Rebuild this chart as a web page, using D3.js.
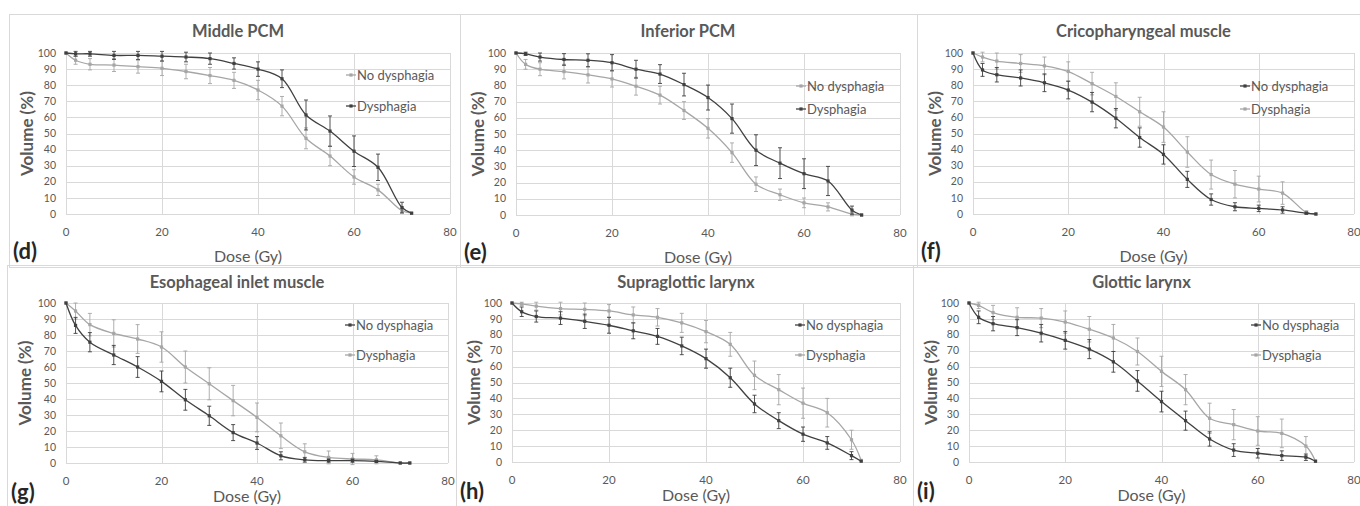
<!DOCTYPE html>
<html>
<head>
<meta charset="utf-8">
<script src="https://cdn.jsdelivr.net/npm/d3@7"></script>
<style>
body{margin:0;background:#fff;}
svg{display:block;font-family:Lato, "Liberation Sans", sans-serif;}
</style>
</head>
<body>
<div id="chart"></div>
<script>
// dose levels (Gy) shared by every panel
const doses = [0, 2, 5, 10, 15, 20, 25, 30, 35, 40, 45, 50, 55, 60, 65, 70, 72];

const panelTitles = ["Middle PCM", "Inferior PCM", "Cricopharyngeal muscle",
                     "Esophageal inlet muscle", "Supraglottic larynx", "Glottic larynx"];
const panelLetters = ["(d)", "(e)", "(f)", "(g)", "(h)", "(i)"];
const xTicks = [0, 20, 40, 60, 80];
const yTicks = [0, 10, 20, 30, 40, 50, 60, 70, 80, 90, 100];

// middle PCM
const middleNo     = [100, 95.5, 93, 92.5, 91.5, 90.5, 88.5, 86, 83, 77, 67, 47, 36, 23, 15, 2, 0.5];
const middleNoErr  = [0, 2.5, 3.5, 4, 4, 4.5, 4.5, 5, 5, 6, 6, 6.5, 6, 4.5, 3.5, 1.5, 0];
const middleDys    = [100, 99.5, 99.5, 98.5, 98.5, 98, 97.5, 96.5, 93.5, 90, 84, 61.5, 51.5, 39, 29, 4, 0.5];
const middleDysErr = [0, 1.5, 1.5, 2.5, 2.5, 3, 3, 3.5, 3.5, 4.5, 5.5, 9.3, 9.4, 9.5, 8.2, 3.3, 0];

// inferior PCM
const inferiorNo     = [100, 93, 90, 88.5, 86.5, 84, 79.5, 74, 64.5, 53.5, 38.5, 19, 12.5, 7.5, 5, 0.5, 0];
const inferiorNoErr  = [0, 3, 4, 4.5, 5, 5, 5.5, 5.5, 5.5, 6, 6, 4.5, 3.5, 3, 2.5, 1, 0];
const inferiorDys    = [100, 99.5, 97.5, 96, 95.5, 94, 90, 87, 80.5, 72.5, 59.5, 40, 32, 25.5, 21, 3, 0];
const inferiorDysErr = [0, 1, 2.5, 3.6, 4, 5, 5.5, 5.8, 7, 7.7, 9, 9.5, 9.5, 9.2, 9, 2.5, 0];

// cricopharyngeal muscle
const cricoNo     = [100, 89.5, 86.5, 84.5, 81.5, 77, 69.5, 59.5, 47.5, 37, 21.5, 9, 4.5, 3.5, 2.5, 0.5, 0];
const cricoNoErr  = [0, 4, 4.5, 5, 5.5, 5.5, 6, 6, 6, 6, 5, 3.5, 2.5, 2, 2, 0.5, 0];
const cricoDys    = [100, 97.5, 95, 93.5, 92, 88.5, 81, 73, 63.5, 54, 38.5, 24.5, 18.5, 15.5, 13, 1, 0];
const cricoDysErr = [0, 3, 5, 5.5, 5.5, 6, 7, 8.5, 9, 9.5, 9.5, 9, 8.5, 8, 7, 1, 0];

// esophageal inlet muscle
const inletNo     = [100, 86, 75.5, 67.5, 60, 51, 39.5, 29.5, 19, 12.5, 4.5, 2, 1.5, 1.5, 1, 0, 0];
const inletNoErr  = [0, 5, 6, 6, 6.5, 6.5, 6.5, 6, 5, 4, 2.5, 1.5, 1, 1, 0.5, 0, 0];
const inletDys    = [100, 95, 86.5, 81, 77.5, 72.5, 60, 49.5, 39, 28.5, 17, 7, 3.5, 2.5, 2, 0, 0];
const inletDysErr = [0, 5, 7, 8.5, 9, 9.5, 10, 10, 9.5, 9, 8, 5, 4, 3.5, 2.5, 0, 0];

// supraglottic larynx
const supraNo     = [100, 94.5, 91.5, 90.5, 88.5, 86, 82.5, 79, 73, 65, 53, 36.5, 26, 17.5, 12, 4, 0.5];
const supraNoErr  = [0, 3, 3.5, 4, 4.5, 5, 5, 5, 5.5, 6, 6, 5.5, 5, 4.5, 4, 2.5, 0];
const supraDys    = [100, 99.5, 98, 96.5, 96, 95, 92.5, 91, 87.5, 82, 74, 54.5, 45.5, 37, 31, 14, 1];
const supraDysErr = [0, 1, 2.5, 4, 4, 4, 5, 5.5, 6, 7, 7.5, 9, 9.5, 9.5, 9, 6, 0];

// glottic larynx
const glotticNo     = [100, 91, 87, 84.5, 81, 76.5, 71, 63, 51, 38, 26, 14.5, 7.5, 5.5, 4, 3, 0.5];
const glotticNoErr  = [0, 4, 4.5, 5, 5.5, 5.5, 6, 6.5, 6.5, 6.5, 6, 4.5, 4, 3, 3, 2, 0];
const glotticDys    = [100, 98.5, 94, 91, 90.5, 88, 83.5, 78, 69.5, 57, 45.5, 27.5, 23.5, 19.5, 18, 10, 0.5];
const glotticDysErr = [0, 2, 4.5, 6, 6, 7, 8, 8.5, 8.5, 9.5, 9.5, 9.5, 9.5, 9, 9, 6, 0];

const DARK = "#404040", LIGHT = "#a6a6a6", GRID = "#d9d9d9", TXT = "#595959";

// frame and plot boxes of each pasted Excel chart
const layout = [
  {frame: [9, 14, 460, 265],    plot: [66, 450, 53, 214],     leg: [357, 75, 106],  row: 0},
  {frame: [460, 14, 917, 265],  plot: [516, 900, 53, 215],    leg: [807, 86, 109],  row: 0},
  {frame: [917, 14, 1360, 265], plot: [973, 1354, 53, 214],   leg: [1251, 86, 109], row: 0},
  {frame: [7, 265, 456, 506],   plot: [66, 448, 303, 463],    leg: [356, 325, 355], row: 1},
  {frame: [456, 265, 913, 506], plot: [512, 900, 303, 462],   leg: [806, 325, 355], row: 1},
  {frame: [913, 265, 1360, 506],plot: [969, 1354, 303, 462],  leg: [1262, 325, 355],row: 1}
];
//bottom row is cropped tighter than the top one
const doseOffset = [48, 39];
const letterOffset = [45, 37];

const panels = [
  {no: middleNo,   noErr: middleNoErr,   dys: middleDys,   dysErr: middleDysErr,   noColor: LIGHT, dysColor: DARK},
  {no: inferiorNo, noErr: inferiorNoErr, dys: inferiorDys, dysErr: inferiorDysErr, noColor: LIGHT, dysColor: DARK},
  {no: cricoNo,    noErr: cricoNoErr,    dys: cricoDys,    dysErr: cricoDysErr,    noColor: DARK,  dysColor: LIGHT},
  {no: inletNo,    noErr: inletNoErr,    dys: inletDys,    dysErr: inletDysErr,    noColor: DARK,  dysColor: LIGHT},
  {no: supraNo,    noErr: supraNoErr,    dys: supraDys,    dysErr: supraDysErr,    noColor: DARK,  dysColor: LIGHT},
  {no: glotticNo,  noErr: glotticNoErr,  dys: glotticDys,  dysErr: glotticDysErr,  noColor: DARK,  dysColor: LIGHT}
];

var svg = d3.select("#chart").append("svg")
            .attr("width", 1360)
            .attr("height", 506);

panels.forEach(function(p, i){
  var L = layout[i];
  var g = svg.append("g");

  //panel frame
  g.append("rect")
   .attr("x", L.frame[0] + 0.5).attr("y", L.frame[1] + 0.5)
   .attr("width", L.frame[2] - L.frame[0]).attr("height", L.frame[3] - L.frame[1] + 2)
   .attr("fill", "none").attr("stroke", GRID);

  var x = d3.scaleLinear().domain([0, 80]).range([L.plot[0], L.plot[1]]);
  var y = d3.scaleLinear().domain([0, 100]).range([L.plot[3], L.plot[2]]);

  //gridlines
  g.selectAll(".hg").data(yTicks).enter().append("line")
   .attr("x1", x(0)).attr("x2", x(80))
   .attr("y1", d => Math.round(y(d)) + 0.5).attr("y2", d => Math.round(y(d)) + 0.5)
   .attr("stroke", GRID);
  g.selectAll(".vg").data(xTicks).enter().append("line")
   .attr("x1", d => Math.round(x(d)) + 0.5).attr("x2", d => Math.round(x(d)) + 0.5)
   .attr("y1", y(100)).attr("y2", y(0))
   .attr("stroke", GRID);

  //tick labels
  g.selectAll(".yt").data(yTicks).enter().append("text")
   .attr("x", x(0) - 10).attr("y", d => y(d))
   .attr("dy", "0.35em").attr("text-anchor", "end")
   .attr("font-size", 10.5).attr("fill", TXT)
   .text(d => d);
  g.selectAll(".xt").data(xTicks).enter().append("text")
   .attr("x", d => x(d)).attr("y", y(0) + 22)
   .attr("text-anchor", "middle")
   .attr("font-size", 11.5).attr("fill", TXT)
   .text(d => d);

  var cx = (L.plot[0] + L.plot[1]) / 2;

  //titles
  g.append("text")
   .attr("x", cx - 20).attr("y", L.frame[1] + 23)
   .attr("text-anchor", "middle").attr("font-size", 16.5).attr("font-weight", "bold")
   .attr("fill", TXT).text(panelTitles[i]);
  g.append("text")
   .attr("x", cx - 10).attr("y", y(0) + doseOffset[L.row])
   .attr("text-anchor", "middle").attr("font-size", 16)
   .attr("fill", TXT).text("Dose (Gy)");
  g.append("text")
   .attr("transform", "translate(" + (L.frame[0] + 24) + "," + ((y(0) + y(100)) / 2) + ") rotate(-90)")
   .attr("text-anchor", "middle").attr("font-size", 17).attr("font-weight", "bold")
   .attr("fill", TXT).text("Volume (%)");
  g.append("text")
   .attr("x", L.frame[0] + 4).attr("y", y(0) + letterOffset[L.row])
   .attr("font-size", 22).attr("font-weight", "bold")
   .attr("fill", "#262626").text(panelLetters[i]);

  var line = d3.line()
               .x(d => x(d[0]))
               .y(d => y(d[1]))
               .curve(d3.curveCatmullRom.alpha(0.5));

  var series = [
    {vals: p.no, err: p.noErr, color: p.noColor, name: "No dysphagia", ly: L.leg[1]},
    {vals: p.dys, err: p.dysErr, color: p.dysColor, name: "Dysphagia", ly: L.leg[2]}
  ];
  //light series drawn first
  series.sort((a, b) => (a.color === LIGHT ? 0 : 1) - (b.color === LIGHT ? 0 : 1));

  series.forEach(function(s){
    var pts = doses.map((d, k) => [d, s.vals[k], s.err[k]]);

    var eb = g.selectAll(null).data(pts.filter(d => d[2] > 0)).enter().append("g");
    eb.append("line")
      .attr("x1", d => x(d[0])).attr("x2", d => x(d[0]))
      .attr("y1", d => y(d[1] - d[2])).attr("y2", d => y(d[1] + d[2]))
      .attr("stroke", s.color).attr("stroke-width", 0.9);
    eb.append("line")
      .attr("x1", d => x(d[0]) - 2).attr("x2", d => x(d[0]) + 2)
      .attr("y1", d => y(d[1] + d[2])).attr("y2", d => y(d[1] + d[2]))
      .attr("stroke", s.color).attr("stroke-width", 0.9);
    eb.append("line")
      .attr("x1", d => x(d[0]) - 2).attr("x2", d => x(d[0]) + 2)
      .attr("y1", d => y(d[1] - d[2])).attr("y2", d => y(d[1] - d[2]))
      .attr("stroke", s.color).attr("stroke-width", 0.9);

    g.append("path")
     .attr("d", line(pts))
     .attr("fill", "none").attr("stroke", s.color).attr("stroke-width", 1.3);

    g.selectAll(null).data(pts).enter().append("rect")
     .attr("x", d => x(d[0]) - 1.6).attr("y", d => y(d[1]) - 1.6)
     .attr("width", 3.2).attr("height", 3.2)
     .attr("fill", s.color);

    //legend entry
    var lx = L.leg[0];
    g.append("line")
     .attr("x1", lx - 11).attr("x2", lx - 1)
     .attr("y1", s.ly).attr("y2", s.ly)
     .attr("stroke", s.color).attr("stroke-width", 1.3);
    g.append("rect")
     .attr("x", lx - 7.6).attr("y", s.ly - 1.6)
     .attr("width", 3.2).attr("height", 3.2).attr("fill", s.color);
    g.append("text")
     .attr("x", lx).attr("y", s.ly).attr("dy", "0.35em")
     .attr("font-size", 13).attr("fill", TXT)
     .text(s.name);
  });
});
</script>
</body>
</html>
